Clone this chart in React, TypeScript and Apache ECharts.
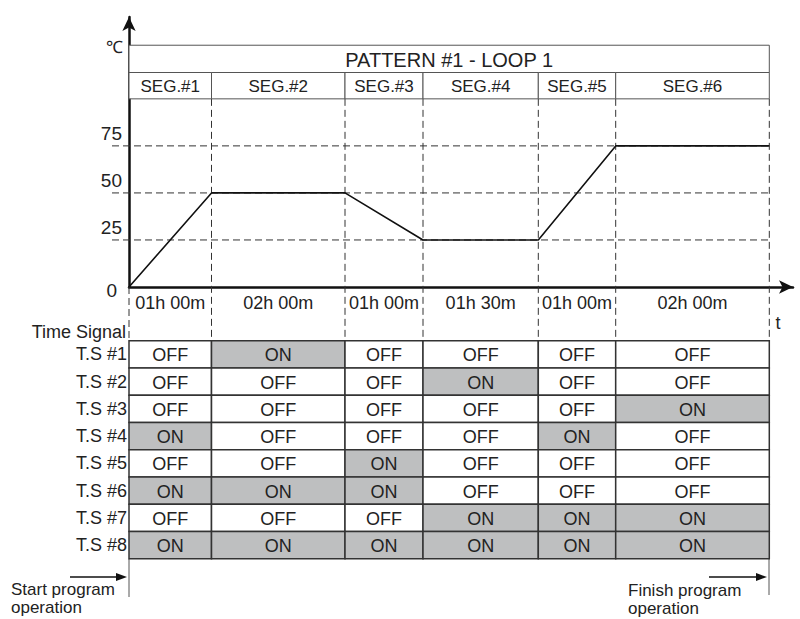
import React, { useEffect, useRef } from 'react';
import * as echarts from 'echarts';

// ---------- data ----------
const patternTitle = 'PATTERN #1 - LOOP 1';
const segmentNames = ['SEG.#1', 'SEG.#2', 'SEG.#3', 'SEG.#4', 'SEG.#5', 'SEG.#6'];
const segmentTimes = ['01h 00m', '02h 00m', '01h 00m', '01h 30m', '01h 00m', '02h 00m'];
// drawn width of each segment column (the diagram is schematic, not to time scale)
const segmentWidths = [82.5, 133.5, 78, 115.3, 77.4, 153.6];
const startTemp = 0;
const segmentTargetTemps = [50, 50, 25, 25, 75, 75];
const tempTicks = [0, 25, 50, 75];
const timeSignalNames = ['T.S #1', 'T.S #2', 'T.S #3', 'T.S #4', 'T.S #5', 'T.S #6', 'T.S #7', 'T.S #8'];
// 1 = ON, 0 = OFF, per time signal row, per segment
const timeSignalStates = [
  [0, 1, 0, 0, 0, 0],
  [0, 0, 0, 1, 0, 0],
  [0, 0, 0, 0, 0, 1],
  [1, 0, 0, 0, 1, 0],
  [0, 0, 1, 0, 0, 0],
  [1, 1, 1, 0, 0, 0],
  [0, 0, 0, 1, 1, 1],
  [1, 1, 1, 1, 1, 1],
];

// ---------- layout / style constants ----------
const FONT = "'Liberation Sans', Arial, Helvetica, sans-serif";
const TEXT = '#222';
const X_MAX = 664;
const Y_MAX = 143.5;
const HEADER_BOTTOM = 100;
const HEADER_MID = 114;
const HEADER_TOP = 128.5;
const TABLE_TOP = 340.7;
const TABLE_H = 218;
const GRID_EXT = 17;
const DASH = [7, 4];

const boundaries = segmentWidths.reduce<number[]>((acc, w) => [...acc, acc[acc.length - 1] + w], [0]);
const xEnd = boundaries[boundaries.length - 1];
const profilePoints = [[0, startTemp], ...segmentTargetTemps.map((t, i) => [boundaries[i + 1], t])];

type HeaderCell = { x0: number; x1: number; y0: number; y1: number; label: string; size: number };
const headerCells: HeaderCell[] = [
  { x0: 0, x1: xEnd, y0: HEADER_MID, y1: HEADER_TOP, label: patternTitle, size: 20 },
  ...segmentNames.map((n, i) => ({ x0: boundaries[i], x1: boundaries[i + 1], y0: HEADER_BOTTOM, y1: HEADER_MID, label: n, size: 17 })),
];

const cellData: number[][] = [];
timeSignalStates.forEach((row, r) => {
  row.forEach((s, c) => cellData.push([boundaries[c], boundaries[c + 1], r, s]));
});

const note = (x: number, y: number, text: string) => ({
  type: 'text', x, y,
  style: { text, fill: TEXT, fontSize: 17, lineHeight: 17, fontFamily: FONT, align: 'left', verticalAlign: 'middle' },
});

function buildOption(): any {
  return {
    animation: false,
    backgroundColor: '#fff',
    grid: [
      { left: 129, right: 7, top: 17, bottom: 332 },
      { left: 129, right: 7, top: TABLE_TOP, height: TABLE_H },
    ],
    xAxis: [
      {
        gridIndex: 0, type: 'value', min: 0, max: X_MAX,
        axisLine: { show: true, symbol: ['none', 'arrow'], symbolSize: [10, 14], lineStyle: { color: '#111', width: 2.5 } },
        axisTick: { show: false }, axisLabel: { show: false }, splitLine: { show: false },
      },
      { gridIndex: 1, type: 'value', min: 0, max: X_MAX, show: false },
    ],
    yAxis: [
      {
        gridIndex: 0, type: 'value', min: 0, max: Y_MAX, interval: 25,
        axisLine: { show: true, symbol: ['none', 'arrow'], symbolSize: [10, 14], lineStyle: { color: '#111', width: 2.5 } },
        axisTick: { show: false }, splitLine: { show: false },
        axisLabel: {
          margin: 7,
          formatter: (v: number) => (!tempTicks.includes(v) ? '' : v === 0 ? `{z|${v}}` : `{n|${v}}`),
          rich: {
            n: { fontSize: 19, color: TEXT, fontFamily: FONT, padding: [0, 0, 24, 0] },
            z: { fontSize: 19, color: TEXT, fontFamily: FONT, padding: [6, 5, 0, 0] },
          },
        },
      },
      {
        gridIndex: 1, type: 'category', data: timeSignalNames, inverse: true,
        axisLine: { show: false }, axisTick: { show: false }, splitLine: { show: false },
        axisLabel: { margin: 2, fontSize: 18, color: TEXT, fontFamily: FONT },
      },
    ],
    series: [
      // dashed temperature reference lines
      {
        type: 'custom', xAxisIndex: 0, yAxisIndex: 0, clip: false, silent: true,
        data: tempTicks.filter((t) => t > 0).map((t) => [0, t]),
        encode: { x: 0, y: 1 },
        renderItem: (_p: any, api: any) => {
          const t = api.value(1);
          const a = api.coord([0, t]);
          const b = api.coord([xEnd, t]);
          return { type: 'line', shape: { x1: a[0] - GRID_EXT, y1: a[1], x2: b[0], y2: b[1] }, style: { stroke: '#333', lineWidth: 1, lineDash: DASH } };
        },
      },
      // dashed segment boundary lines
      {
        type: 'custom', xAxisIndex: 0, yAxisIndex: 0, clip: false, silent: true,
        data: boundaries.map((b, i) => [b, i === 0 ? 0 : HEADER_BOTTOM]),
        encode: { x: 0, y: 1 },
        renderItem: (_p: any, api: any) => {
          const a = api.coord([api.value(0), api.value(1)]);
          return { type: 'line', shape: { x1: a[0], y1: a[1], x2: a[0], y2: TABLE_TOP }, style: { stroke: '#333', lineWidth: 1, lineDash: DASH } };
        },
      },
      // header table
      {
        type: 'custom', xAxisIndex: 0, yAxisIndex: 0, clip: false, silent: true,
        data: headerCells.map((c) => [c.x0, c.x1, c.y0, c.y1]),
        encode: { x: [0, 1], y: [2, 3] },
        renderItem: (p: any, api: any) => {
          const c = headerCells[p.dataIndex];
          const a = api.coord([c.x0, c.y1]);
          const b = api.coord([c.x1, c.y0]);
          return {
            type: 'group',
            children: [
              { type: 'rect', shape: { x: a[0], y: a[1], width: b[0] - a[0], height: b[1] - a[1] }, style: { fill: '#fff', stroke: '#555', lineWidth: 1 } },
              { type: 'text', x: (a[0] + b[0]) / 2, y: (a[1] + b[1]) / 2 + 1, style: { text: c.label, fill: TEXT, fontSize: c.size, fontFamily: FONT, align: 'center', verticalAlign: 'middle' } },
            ],
          };
        },
      },
      // temperature profile
      {
        type: 'line', xAxisIndex: 0, yAxisIndex: 0, data: profilePoints, showSymbol: false, silent: true,
        lineStyle: { color: '#111', width: 1.6 }, z: 5,
      },
      // segment duration labels
      {
        type: 'custom', xAxisIndex: 0, yAxisIndex: 0, clip: false, silent: true,
        data: segmentTimes.map((_, i) => [(boundaries[i] + boundaries[i + 1]) / 2, 0]),
        encode: { x: 0, y: 1 },
        renderItem: (p: any, api: any) => {
          const a = api.coord([api.value(0), api.value(1)]);
          return { type: 'text', x: a[0], y: a[1] + 16, style: { text: segmentTimes[p.dataIndex], fill: TEXT, fontSize: 18, fontFamily: FONT, align: 'center', verticalAlign: 'middle' } };
        },
      },
      // time signal table
      {
        type: 'custom', xAxisIndex: 1, yAxisIndex: 1, silent: true,
        data: cellData,
        encode: { x: [0, 1], y: 2 },
        renderItem: (_p: any, api: any) => {
          const row = api.value(2);
          const on = api.value(3) === 1;
          const a = api.coord([api.value(0), row]);
          const b = api.coord([api.value(1), row]);
          const h = api.size([0, 1])[1];
          return {
            type: 'group',
            children: [
              { type: 'rect', shape: { x: a[0], y: a[1] - h / 2, width: b[0] - a[0], height: h }, style: { fill: on ? '#bebfc0' : '#fff', stroke: '#333', lineWidth: 1.5 } },
              { type: 'text', x: (a[0] + b[0]) / 2, y: a[1] + 1, style: { text: on ? 'ON' : 'OFF', fill: TEXT, fontSize: 18, fontFamily: FONT, align: 'center', verticalAlign: 'middle' } },
            ],
          };
        },
      },
    ],
    graphic: [
      { type: 'text', x: 114, y: 47, style: { text: '℃', fill: TEXT, fontSize: 17, fontFamily: FONT, align: 'center', verticalAlign: 'middle' } },
      { type: 'text', x: 778, y: 323, style: { text: 't', fill: TEXT, fontSize: 18, fontFamily: FONT, align: 'center', verticalAlign: 'middle' } },
      { type: 'text', x: 126, y: 332, style: { text: 'Time Signal', fill: TEXT, fontSize: 18, fontFamily: FONT, align: 'right', verticalAlign: 'middle' } },
      note(11, 589, 'Start program'),
      note(11, 607, 'operation'),
      note(628, 590, 'Finish program'),
      note(628, 608, 'operation'),
      { type: 'line', shape: { x1: 129, y1: TABLE_TOP + TABLE_H, x2: 129, y2: 597 }, style: { stroke: '#555', lineWidth: 1 } },
      { type: 'line', shape: { x1: 769, y1: TABLE_TOP + TABLE_H, x2: 769, y2: 595 }, style: { stroke: '#555', lineWidth: 1 } },
      { type: 'line', shape: { x1: 70, y1: 577, x2: 119, y2: 577 }, style: { stroke: '#111', lineWidth: 1.5 } },
      { type: 'polygon', shape: { points: [[127, 577], [116, 573], [116, 581]] }, style: { fill: '#111' } },
      { type: 'line', shape: { x1: 709, y1: 577, x2: 758, y2: 577 }, style: { stroke: '#111', lineWidth: 1.5 } },
      { type: 'polygon', shape: { points: [[767, 577], [756, 573], [756, 581]] }, style: { fill: '#111' } },
    ],
  };
}

export default function App() {
  const ref = useRef<HTMLDivElement>(null);
  useEffect(() => {
    if (!ref.current) return;
    const chart = echarts.init(ref.current, null, { renderer: 'svg' });
    chart.setOption(buildOption());
    return () => chart.dispose();
  }, []);
  return <div ref={ref} style={{ position: 'absolute', left: 0, top: 0, width: 800, height: 619, background: '#fff' }} />;
}
